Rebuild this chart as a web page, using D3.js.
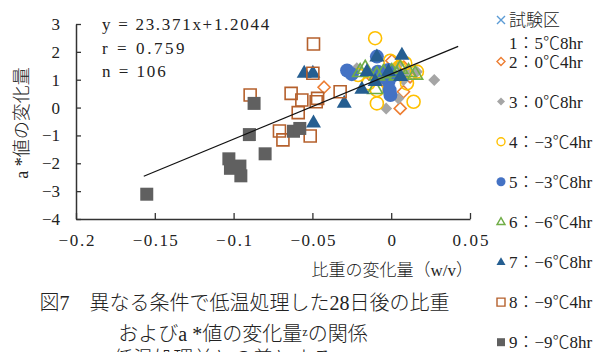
<!DOCTYPE html>
<html>
<head>
<meta charset="utf-8">
<script src="https://cdn.jsdelivr.net/npm/d3@7"></script>
<style>
  html, body { margin: 0; padding: 0; background: #fff; }
  svg { display: block; }
  .num { font-family: "Liberation Serif", "Noto Sans CJK JP", serif; }
  .jp { font-family: "Liberation Serif", "Noto Sans CJK JP", serif; }
</style>
</head>
<body>
<svg id="chart" width="600" height="352"></svg>
<script>
// ---- data -------------------------------------------------------------
const seriesNames = ["1：5℃8hr", "2：0℃4hr", "3：0℃8hr", "4：−3℃4hr", "5：−3℃8hr",
                     "6：−6℃4hr", "7：−6℃8hr", "8：−9℃4hr", "9：−9℃8hr"];

// [specific gravity change (w/v), a* change]
const s1 = [[-0.028,1.33],[-0.0091,1.83],[-0.0085,1.29],[-0.0017,1.35],[-0.0017,0.93],
            [-0.0005,0.45],[-0.025,1.2],[-0.005,1.1]];
const s2 = [[-0.0426,0.73],[0.0057,-0.03],[0.0078,0.57],[0.0004,1.68],[-0.0081,1.05],
            [0.003,1.3],[0.008,1.45],[-0.003,0.85],[0.012,1.1],[-0.014,1.2]];
const s3 = [[0.0273,0.99],[-0.0032,-0.03],[0.0046,0.33],[-0.0218,1.41],[0.0163,1.29],
            [0.0078,0.99],[0.0045,1.55],[-0.006,1.2],[0.010,1.3]];
const s4 = [[-0.0102,2.49],[-0.0006,1.68],[0.0089,1.59],[0.0163,1.29],[0.010,0.87],
            [0.0142,0.21],[-0.0091,0.15],[-0.0144,0.87],[-0.0091,0.63],[-0.021,1.17],[0.005,1.45]];
const s5 = [[-0.028,1.33],[-0.0091,1.83],[-0.0085,1.29],[-0.0017,1.35],[-0.0017,0.93],
            [-0.0005,0.45],[-0.025,1.2],[-0.005,1.1],[0.001,1.15],[-0.001,0.62]];
const s6 = [[-0.0197,1.29],[-0.0165,1.41],[-0.0091,1.17],[-0.0102,0.68],[0.0004,1.29],
            [0.0036,1.17],[0.0057,1.41],[0.011,1.29],[0.0152,1.20],[-0.005,1.25]];
const s7 = [[-0.0552,1.25],[-0.0497,1.25],[-0.0298,0.17],[-0.0493,-0.54],[-0.0154,1.30],
            [-0.0186,0.67],[-0.0091,1.83],[0.0068,1.89],[0.0060,1.13],[-0.0017,1.30],[-0.0102,0.95]];
const s8 = [[-0.0895,0.45],[-0.0635,0.51],[-0.0709,-0.84],[-0.0687,-1.16],[-0.059,-0.18],
            [-0.0567,0.27],[-0.0493,2.28],[-0.0497,1.23],[-0.0467,0.33],[-0.0476,0.21],
            [-0.0514,-1.02],[-0.0324,0.57]];
const s9 = [[-0.1551,-3.11],[-0.087,0.15],[-0.090,-0.97],[-0.080,-1.66],[-0.103,-1.84],
            [-0.102,-2.18],[-0.096,-2.10],[-0.0954,-2.45],[-0.062,-0.85],[-0.058,-0.75]];

const xTicks = [-0.2, -0.15, -0.1, -0.05, 0, 0.05];
const yTicks = [-4, -3, -2, -1, 0, 1, 2, 3];

// regression line: y = slope * x + intercept
const slope = 23.371, intercept = 1.2044, rValue = 0.759, nValue = 106;
const trendRange = [-0.157, 0.0425];

// ---- drawing ----------------------------------------------------------
const svg = d3.select("#chart");
const x = d3.scaleLinear().domain([-0.2, 0.05]).range([76, 470]);
const y = d3.scaleLinear().domain([-4, 3]).range([219, 24]);

const styles = [
  {shape: "x",        size: 8,  fill: "none",    stroke: "#5B9BD5"},
  {shape: "diamond",  size: 12, fill: "none",    stroke: "#ED7D31"},
  {shape: "diamond",  size: 12, fill: "#A5A5A5", stroke: "none"},
  {shape: "circle",   size: 13, fill: "none",    stroke: "#FFC000"},
  {shape: "circle",   size: 14, fill: "#4472C4", stroke: "none"},
  {shape: "triangle", size: 15, fill: "none",    stroke: "#70AD47"},
  {shape: "triangle", size: 15, fill: "#255E91", stroke: "none"},
  {shape: "square",   size: 12, fill: "none",    stroke: "#B5602C"},
  {shape: "square",   size: 13, fill: "#606060", stroke: "none"}
];
const allSeries = [s1, s2, s3, s4, s5, s6, s7, s8, s9];

function markerPath(shape, s) {
  const r = s / 2;
  switch (shape) {
    case "square":   return `M${-r},${-r}H${r}V${r}H${-r}Z`;
    case "diamond":  return `M0,${-r}L${r},0L0,${r}L${-r},0Z`;
    case "triangle": { const h = s * 0.866; return `M0,${-h*0.62}L${r},${h*0.38}L${-r},${h*0.38}Z`; }
    case "circle":   return `M${r},0A${r},${r} 0 1,1 ${-r},0A${r},${r} 0 1,1 ${r},0Z`;
    case "x":        return `M${-r},${-r}L${r},${r}M${r},${-r}L${-r},${r}`;
  }
}

// axes
const xAxis = d3.axisBottom(x).tickValues(xTicks).tickSizeInner(-6).tickSizeOuter(0)
  .tickFormat(d => d3.format("")(d).replace("-", "−"));
const gx = svg.append("g").attr("transform", `translate(0,${y(-4)})`).call(xAxis);
gx.select(".domain").attr("stroke", "#333").attr("stroke-width", 1.5);
gx.selectAll(".tick line").attr("stroke", "#333").attr("stroke-width", 1.3);
gx.selectAll(".tick text").attr("class", "num").attr("font-size", 17).attr("fill", "#222")
  .attr("y", 15).attr("dy", "0.71em")
  .attr("textLength", d => d3.format("")(d).length * 9).attr("lengthAdjust", "spacing");

const yAxis = d3.axisLeft(y).tickValues(yTicks).tickSizeInner(-5).tickSizeOuter(0)
  .tickFormat(d => String(d).replace("-", "−"));
const gy = svg.append("g").attr("transform", `translate(${x(-0.2)},0)`).call(yAxis);
gy.select(".domain").attr("stroke", "#333").attr("stroke-width", 1.5);
gy.selectAll(".tick line").attr("stroke", "#333").attr("stroke-width", 1.3);
gy.selectAll(".tick text").attr("class", "num").attr("font-size", 17).attr("fill", "#222")
  .attr("x", -16);
gx.attr("font-family", null); gy.attr("font-family", null);

// points
allSeries.forEach((data, i) => {
  const st = styles[i];
  svg.append("g").selectAll("path").data(data).join("path")
    .attr("transform", d => `translate(${x(d[0])},${y(d[1])})`)
    .attr("d", markerPath(st.shape, st.size))
    .attr("fill", st.fill)
    .attr("stroke", st.stroke)
    .attr("stroke-width", 1.6);
});

// regression line
svg.append("line")
  .attr("x1", x(trendRange[0])).attr("y1", y(slope * trendRange[0] + intercept))
  .attr("x2", x(trendRange[1])).attr("y2", y(slope * trendRange[1] + intercept))
  .attr("stroke", "#111").attr("stroke-width", 1.2);

// statistics text
const stats = [`y = ${slope}x+${intercept}`, `r = ${rValue}`, `n = ${nValue}`];
svg.append("g").selectAll("text").data(stats).join("text")
  .attr("class", "num").attr("font-size", 17).attr("fill", "#222")
  .attr("x", 102).attr("y", (d, i) => 30 + i * 23.5)
  .attr("textLength", d => d.length * 9.4 - 2).attr("lengthAdjust", "spacing")
  .text(d => d);

// axis titles
svg.append("text").attr("class", "jp").attr("font-size", 17).attr("fill", "#222")
  .attr("font-weight", 300)
  .attr("text-anchor", "end").attr("x", 473).attr("y", 276)
  .text("比重の変化量（w/v）");
svg.append("text").attr("class", "jp").attr("font-size", 18).attr("fill", "#222")
  .attr("font-weight", 300)
  .attr("text-anchor", "middle")
  .attr("transform", "translate(28,123) rotate(-90)")
  .text("a *値の変化量");

// legend
const lg = svg.append("g").attr("font-weight", 300);
lg.append("path").attr("transform", "translate(501,20)")
  .attr("d", markerPath("x", 8)).attr("stroke", styles[0].stroke).attr("stroke-width", 1.4).attr("fill", "none");
lg.append("text").attr("class", "jp").attr("font-size", 17).attr("fill", "#222")
  .attr("x", 509).attr("y", 26).text("試験区");
lg.append("text").attr("class", "jp").attr("font-size", 17).attr("fill", "#222")
  .attr("x", 509).attr("y", 49).text(seriesNames[0]);
const legendSizes = [8, 8, 8, 9, 8, 9, 8, 8];
seriesNames.slice(1).forEach((name, k) => {
  const i = k + 1, st = styles[i];
  const cy = 61.5 + k * 40.1;
  lg.append("path").attr("transform", `translate(501,${cy})`)
    .attr("d", markerPath(st.shape, legendSizes[k]))
    .attr("fill", st.fill).attr("stroke", st.stroke).attr("stroke-width", 1.4);
  lg.append("text").attr("class", "jp").attr("font-size", 17).attr("fill", "#222")
    .attr("x", 509).attr("y", cy + 6).text(name);
});

// caption
const caption = ["図7　異なる条件で低温処理した28日後の比重", "およびa *値の変化量ᶻの関係", "ᶻ低温処理前との差とする"];
svg.append("g").attr("font-weight", 300).selectAll("text").data(caption).join("text")
  .attr("class", "jp").attr("font-size", 20).attr("fill", "#222")
  .attr("text-anchor", "middle")
  .attr("x", (d, i) => [244.5, 243, 220][i]).attr("y", (d, i) => [310, 341, 366][i])
  .text(d => d);
</script>
</body>
</html>
